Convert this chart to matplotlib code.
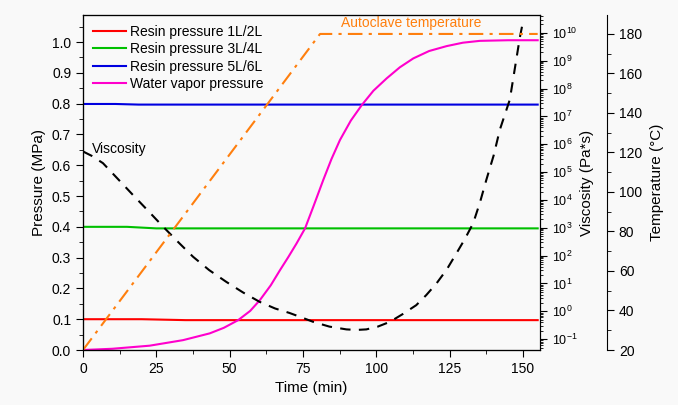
import matplotlib.pyplot as plt
from matplotlib.ticker import MultipleLocator, LogLocator
import numpy as np

plt.rcParams['font.family'] = ['Liberation Sans', 'DejaVu Sans']
plt.rcParams['mathtext.fontset'] = 'custom'
plt.rcParams['mathtext.rm'] = 'Liberation Sans'

# resin pressures (MPa)
t_r1 = [0, 20, 35, 155]
p_r1 = [0.100, 0.100, 0.097, 0.097]
t_r3 = [0, 15, 25, 155]
p_r3 = [0.400, 0.400, 0.395, 0.395]
t_r5 = [0, 11, 19, 155]
p_r5 = [0.799, 0.799, 0.797, 0.797]

# water vapor pressure (MPa)
t_w = [0, 10, 22.7, 34.1, 43.2, 48, 52.9, 57, 60.3, 64, 67.2, 70, 72.8, 75.7,
       78.5, 81.9, 84.7, 87.6, 91.3, 95, 99, 103.5, 108, 112.6, 118, 124, 129.5,
       135.3, 145, 155]
p_w = [0, 0.004, 0.014, 0.032, 0.054, 0.072, 0.097, 0.127, 0.162, 0.21, 0.26,
       0.302, 0.346, 0.395, 0.465, 0.552, 0.62, 0.682, 0.745, 0.795, 0.842, 0.882,
       0.918, 0.947, 0.971, 0.987, 0.998, 1.004, 1.006, 1.006]

# viscosity (log10 Pa*s)
t_v = [0, 3, 6.8, 12, 17.0, 22, 27.3, 32.5, 37.5, 43, 48.8, 54.5, 60.2, 65.5,
       70.4, 74, 78.5, 84, 89.8, 93.2, 96.6, 100.5, 104.6, 109, 113.6, 117,
       120.5, 124, 127.3, 130.2, 133, 135.3, 137.5, 140, 142.1, 145.5, 148.9,
       149.8]
logv = [5.74, 5.58, 5.32, 4.74, 4.18, 3.63, 3.04, 2.48, 1.96, 1.48, 1.06, 0.68,
        0.34, 0.1, -0.06, -0.2, -0.38, -0.55, -0.65, -0.67, -0.65, -0.55, -0.38,
        -0.1, 0.22, 0.58, 1.0, 1.5, 2.08, 2.6, 3.16, 3.9, 4.72, 5.6, 6.52, 7.6,
        9.82, 10.3]

# autoclave temperature (C)
t_T = [0, 80.8, 155]
temp = [20, 180, 180]

fig = plt.figure(figsize=(6.78, 4.05), dpi=100, facecolor='#f9f9f9')
ax = fig.add_subplot(1, 1, 1)
fig.subplots_adjust(left=0.1224, right=0.7965, bottom=0.1358, top=0.963)
ax.set_facecolor('#f9f9f9')

ax.plot(t_r1, p_r1, color='#ff0000', lw=1.5, label='Resin pressure 1L/2L')
ax.plot(t_r3, p_r3, color='#00c000', lw=1.5, label='Resin pressure 3L/4L')
ax.plot(t_r5, p_r5, color='#0000e0', lw=1.5, label='Resin pressure 5L/6L')
ax.plot(t_w, p_w, color='#ff00cc', lw=1.5, label='Water vapor pressure')

ax.set_xlim(0, 155.8)
ax.set_ylim(0, 1.088)
ax.xaxis.set_major_locator(MultipleLocator(25))
ax.xaxis.set_minor_locator(MultipleLocator(12.5))
ax.yaxis.set_minor_locator(MultipleLocator(0.05))
ax.yaxis.set_major_formatter(plt.FormatStrFormatter('%.1f'))
ax.set_yticks(np.arange(0, 1.01, 0.1))
ax.tick_params(which='both', direction='out', labelsize=10, top=False, right=False)
ax.tick_params(which='major', length=5)
ax.tick_params(which='minor', length=3)
ax.set_xlabel('Time (min)', fontsize=11)
ax.set_ylabel('Pressure (MPa)', fontsize=11)
ax.legend(loc='upper left', frameon=False, fontsize=10, handlelength=2.4,
          handletextpad=0.3, labelspacing=0.25, borderaxespad=0.3)

# viscosity axis
axv = ax.twinx()
axv.semilogy(t_v, 10.0 ** np.array(logv), color='k', lw=1.5, ls=(0, (5, 4)))
axv.set_ylim(10 ** -1.39, 10 ** 10.64)
axv.yaxis.set_major_locator(LogLocator(base=10, numticks=20))
axv.yaxis.set_minor_locator(LogLocator(base=10, subs=np.arange(2, 10), numticks=20))
axv.tick_params(which='both', direction='out', labelsize=9)
axv.tick_params(which='major', length=5)
axv.tick_params(which='minor', length=2.5)
axv.set_ylabel('Viscosity (Pa*s)', fontsize=11, labelpad=2)

# temperature axis, offset 67 px to the right
axt = ax.twinx()
axt.spines['right'].set_position(('outward', 48.2))
axt.plot(t_T, temp, color='#ff7f0e', lw=1.5, ls=(0, (7, 3, 1.5, 3)))
axt.set_ylim(20, 189.6)
axt.yaxis.set_major_locator(MultipleLocator(20))
axt.yaxis.set_minor_locator(MultipleLocator(10))
axt.tick_params(which='both', direction='out', labelsize=10)
axt.tick_params(which='major', length=5)
axt.tick_params(which='minor', length=3)
axt.set_ylabel('Temperature (\u00b0C)', fontsize=11, labelpad=6)

ax.text(3, 0.64, 'Viscosity', fontsize=10, color='k')
ax.text(88, 1.062, 'Autoclave temperature', fontsize=10, color='#ff7f0e', va='center')

plt.savefig('out.png', dpi=100, facecolor=fig.get_facecolor())
